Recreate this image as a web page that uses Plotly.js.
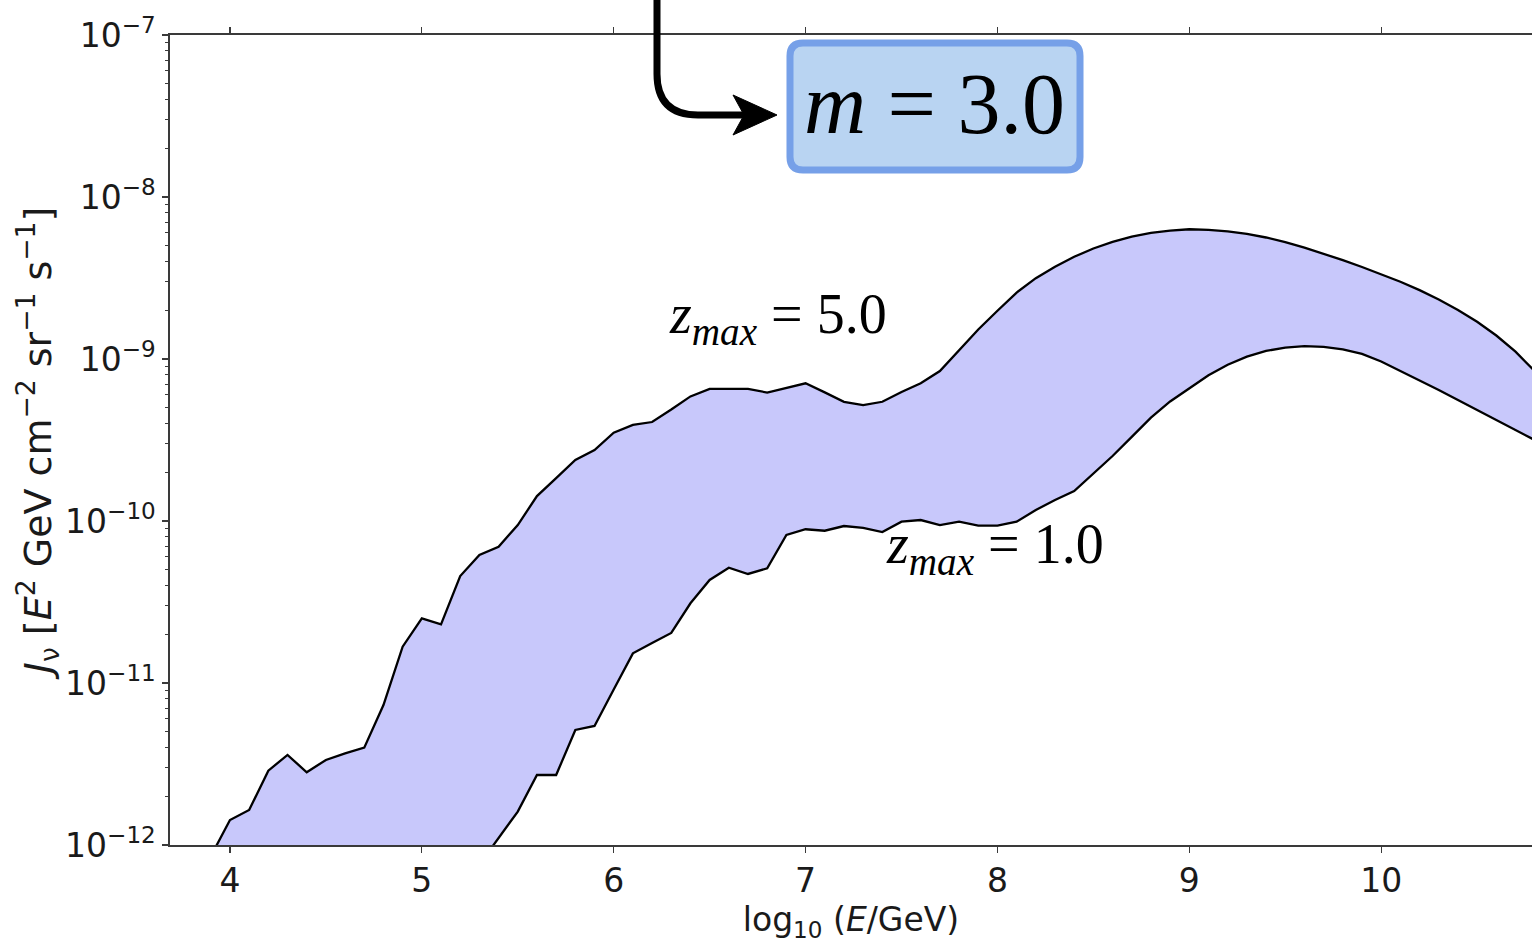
<!DOCTYPE html>
<html>
<head>
<meta charset="utf-8">
<script src="https://cdn.plot.ly/plotly-3.0.1.min.js"></script>
<style>
  html, body { margin: 0; padding: 0; background: #ffffff; }
  #chart { width: 1532px; height: 944px; }
</style>
</head>
<body>
<div id="chart"></div>
<script>
// ---- data (log10 E/GeV, log10 J) ----
const logE_zmax5 = [3.9, 4.0, 4.1, 4.2, 4.3, 4.4, 4.5, 4.6, 4.7, 4.8, 4.9,
  5.0, 5.1, 5.2, 5.3, 5.4, 5.5, 5.6, 5.7, 5.8, 5.9,
  6.0, 6.1, 6.2, 6.3, 6.4, 6.5, 6.6, 6.7, 6.8, 6.9,
  7.0, 7.1, 7.2, 7.3, 7.4, 7.5, 7.6, 7.7, 7.8, 7.9,
  8.0, 8.1, 8.2, 8.3, 8.4, 8.5, 8.6, 8.7, 8.8, 8.9,
  9.0, 9.1, 9.2, 9.3, 9.4, 9.5, 9.6, 9.7, 9.8, 9.9,
  10.0, 10.1, 10.2, 10.3, 10.4, 10.5, 10.6, 10.7, 10.8];
const log10J_zmax5 = [-12.07, -11.846, -11.784, -11.541, -11.444, -11.551, -11.475, -11.434, -11.399, -11.136, -10.776,
  -10.601, -10.638, -10.340, -10.210, -10.159, -10.025, -9.846, -9.735, -9.623, -9.562,
  -9.455, -9.407, -9.389, -9.312, -9.231, -9.185, -9.185, -9.185, -9.207, -9.179,
  -9.150, -9.206, -9.264, -9.284, -9.264, -9.204, -9.150, -9.074, -8.949, -8.818,
  -8.702, -8.590, -8.501, -8.430, -8.369, -8.318, -8.277, -8.245, -8.222, -8.207,
  -8.199, -8.203, -8.212, -8.228, -8.250, -8.278, -8.312, -8.350, -8.390, -8.432,
  -8.476, -8.523, -8.575, -8.633, -8.697, -8.770, -8.855, -8.955, -9.075];

const logE_zmax1 = [5.3, 5.4, 5.5, 5.6, 5.7, 5.8, 5.9,
  6.0, 6.1, 6.2, 6.3, 6.4, 6.5, 6.6, 6.7, 6.8, 6.9,
  7.0, 7.1, 7.2, 7.3, 7.4, 7.5, 7.6, 7.7, 7.8, 7.9,
  8.0, 8.1, 8.2, 8.3, 8.4, 8.5, 8.6, 8.7, 8.8, 8.9,
  9.0, 9.1, 9.2, 9.3, 9.4, 9.5, 9.6, 9.7, 9.8, 9.9,
  10.0, 10.1, 10.2, 10.3, 10.4, 10.5, 10.6, 10.7, 10.8];
const log10J_zmax1 = [-12.12, -11.957, -11.794, -11.568, -11.568, -11.290, -11.265,
  -11.040, -10.817, -10.753, -10.691, -10.508, -10.364, -10.288, -10.327, -10.292, -10.086,
  -10.051, -10.060, -10.031, -10.043, -10.068, -10.004, -9.994, -10.025, -10.004, -10.029,
  -10.029, -10.004, -9.932, -9.870, -9.815, -9.710, -9.599, -9.481, -9.362, -9.262,
  -9.180, -9.100, -9.035, -8.985, -8.950, -8.930, -8.921, -8.925, -8.940, -8.968,
  -9.015, -9.072, -9.130, -9.191, -9.253, -9.315, -9.380, -9.442, -9.500];

const xTickVals = [4, 5, 6, 7, 8, 9, 10];
const xTickText = ['4', '5', '6', '7', '8', '9', '10'];
const yTickVals = [1e-12, 1e-11, 1e-10, 1e-9, 1e-8, 1e-7];
const yTickText = ['10<sup>−12</sup>', '10<sup>−11</sup>', '10<sup>−10</sup>', '10<sup>−9</sup>', '10<sup>−8</sup>', '10<sup>−7</sup>'];

const labelUpper = '<i>z</i><sub><i>max</i></sub> = 5.0';
const labelLower = '<i>z</i><sub><i>max</i></sub> = 1.0';
const labelBox = '<i>m</i> = 3.0';

// ---- build traces ----
const J5 = log10J_zmax5.map(v => Math.pow(10, v));
const J1 = log10J_zmax1.map(v => Math.pow(10, v));

const bandX = logE_zmax5.concat(logE_zmax1.slice().reverse());
const bandY = J5.concat(J1.slice().reverse());

const traces = [
  { x: bandX, y: bandY, type: 'scatter', mode: 'lines', fill: 'toself',
    fillcolor: 'rgb(200,200,251)', line: { width: 0, color: 'rgba(0,0,0,0)' },
    hoverinfo: 'skip', showlegend: false },
  { x: logE_zmax5, y: J5, type: 'scatter', mode: 'lines',
    line: { color: '#000000', width: 2.3 }, showlegend: false },
  { x: logE_zmax1, y: J1, type: 'scatter', mode: 'lines',
    line: { color: '#000000', width: 2.3 }, showlegend: false }
];

// minor tick positions (2..9 within each decade)
const yMinorVals = [];
for (let d = -12; d < -7; d++) {
  for (let k = 2; k <= 9; k++) yMinorVals.push(k * Math.pow(10, d));
}

// ---- pixel -> paper helpers for decorations ----
const L = 170, R = 1532, T = 35, B = 845;
const px = v => ((v - L) / (R - L)).toFixed(5);
const py = v => ((B - v) / (B - T)).toFixed(5);
function pathPx(cmds) {
  return cmds.map(c => {
    if (c[0] === 'Z') return 'Z';
    const pts = [];
    for (let i = 1; i < c.length; i += 2) pts.push(px(c[i]) + ',' + py(c[i + 1]));
    return c[0] + pts.join(' ');
  }).join(' ');
}

const boxL = 790, boxR = 1080, boxT = 43, boxB = 170, rr = 13;
const boxPath = pathPx([
  ['M', boxL + rr, boxT], ['L', boxR - rr, boxT], ['Q', boxR, boxT, boxR, boxT + rr],
  ['L', boxR, boxB - rr], ['Q', boxR, boxB, boxR - rr, boxB],
  ['L', boxL + rr, boxB], ['Q', boxL, boxB, boxL, boxB - rr],
  ['L', boxL, boxT + rr], ['Q', boxL, boxT, boxL + rr, boxT], ['Z']
]);
const arrowPath = pathPx([
  ['M', 657, -10], ['L', 657, 74], ['Q', 657, 115, 698, 115], ['L', 748, 115]
]);
const headPath = pathPx([
  ['M', 733, 95], ['L', 777, 115], ['L', 733, 135], ['L', 744, 115], ['Z']
]);

const axisColor = '#3a3a3a';
const tickFont = { family: 'DejaVu Sans', size: 33, color: '#1a1a1a' };

const layout = {
  width: 1532, height: 944,
  margin: { l: L, r: 1532 - R, t: T, b: 944 - B, pad: 0 },
  paper_bgcolor: '#ffffff', plot_bgcolor: '#ffffff',
  showlegend: false,
  xaxis: {
    range: [3.6875, 10.786], autorange: false,
    tickvals: xTickVals, ticktext: xTickText,
    ticks: 'outside', ticklen: 6, tickwidth: 1.2, tickcolor: axisColor,
    showline: true, linecolor: axisColor, linewidth: 1.6, mirror: 'ticks',
    showgrid: false, zeroline: false, automargin: false,
    tickfont: tickFont,
    title: { text: 'log<sub>10</sub> (<i>E</i>/GeV)', font: tickFont, standoff: 2 }
  },
  yaxis: {
    type: 'log', range: [-12, -7], autorange: false,
    tickvals: yTickVals, ticktext: yTickText,
    ticks: 'outside', ticklen: 6, tickwidth: 1.2, tickcolor: axisColor,
    minor: { tickvals: yMinorVals, ticks: 'outside', ticklen: 3.5, tickwidth: 1, tickcolor: axisColor, showgrid: false },
    showline: true, linecolor: axisColor, linewidth: 1.6,
    showgrid: false, zeroline: false, automargin: false,
    tickfont: tickFont,
    title: { text: '<i>J</i><sub>ν</sub> [<i>E</i><sup>2</sup> GeV cm<sup>−2</sup> sr<sup>−1</sup> s<sup>−1</sup>]',
             font: { family: 'DejaVu Sans', size: 38, color: '#1a1a1a' }, standoff: 1 }
  },
  shapes: [
    { type: 'path', xref: 'paper', yref: 'paper', path: boxPath,
      fillcolor: 'rgb(185,212,242)', line: { color: 'rgb(118,160,232)', width: 7 }, layer: 'above' },
    { type: 'path', xref: 'paper', yref: 'paper', path: arrowPath,
      line: { color: '#000000', width: 7 }, layer: 'above' },
    { type: 'path', xref: 'paper', yref: 'paper', path: headPath,
      fillcolor: '#000000', line: { color: '#000000', width: 1 }, layer: 'above' }
  ],
  annotations: [
    { xref: 'paper', yref: 'paper', x: +px(934), y: +py(104), xanchor: 'center', yanchor: 'middle',
      text: labelBox, showarrow: false, font: { family: 'Liberation Serif', size: 86, color: '#000000' } },
    { xref: 'paper', yref: 'paper', x: +px(778), y: +py(318), xanchor: 'center', yanchor: 'middle',
      text: labelUpper, showarrow: false, font: { family: 'Liberation Serif', size: 56, color: '#000000' } },
    { xref: 'paper', yref: 'paper', x: +px(995), y: +py(548), xanchor: 'center', yanchor: 'middle',
      text: labelLower, showarrow: false, font: { family: 'Liberation Serif', size: 56, color: '#000000' } }
  ]
};

Plotly.newPlot('chart', traces, layout, { staticPlot: true, displayModeBar: false });
</script>
</body>
</html>
